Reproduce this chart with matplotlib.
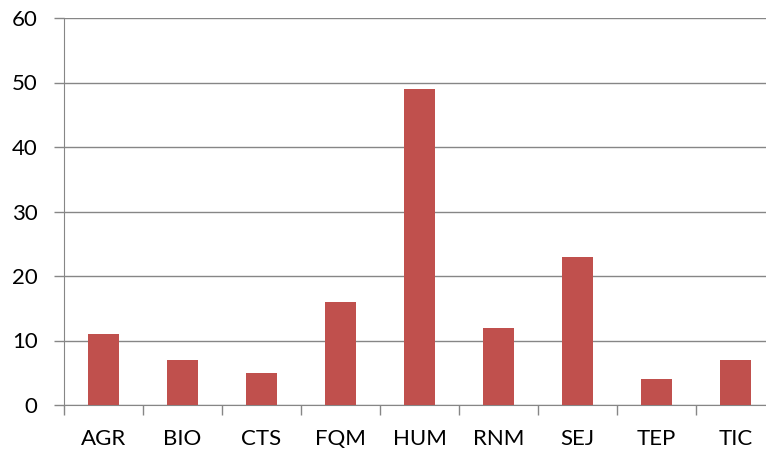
import matplotlib.pyplot as plt
import numpy as np

categories = ['AGR', 'BIO', 'CTS', 'FQM', 'HUM', 'RNM', 'SEJ', 'TEP', 'TIC']
values = [11, 7, 5, 16, 49, 12, 23, 4, 7]
y_ticks = [0, 10, 20, 30, 40, 50, 60]

plt.rcParams['font.family'] = ['Lato', 'DejaVu Sans']

fig = plt.figure(figsize=(7.66, 4.5), dpi=100)
# plot area runs past the right edge in the reference
ax = fig.add_axes([64 / 766, 45 / 450, 702 / 766, 387 / 450])

x = np.arange(len(categories))
ax.bar(x, values, width=0.4, color='#C0504D', zorder=3)

ax.set_yticks(y_ticks)
ax.yaxis.grid(True, color='#868686', linewidth=1, zorder=0)

# category labels centered, ticks on the boundaries
ax.set_xticks(x)
ax.set_xticklabels(categories, fontsize=16)
ax.tick_params(axis='x', length=0, pad=17)
ax.set_xticks(np.arange(len(categories) + 1) - 0.5, minor=True)
ax.tick_params(axis='x', which='minor', length=7, color='#868686', width=1)
ax.tick_params(axis='y', length=7, color='#868686', width=1, labelsize=16, pad=12)

# limits after ticks, set_xticks would widen them
ax.set_xlim(-0.5, -0.5 + 702 / 79)
ax.set_ylim(0, 60)

for side in ['top', 'right']:
    ax.spines[side].set_visible(False)
for side in ['left', 'bottom']:
    ax.spines[side].set_color('#868686')

fig.savefig('out.png', dpi=100)
